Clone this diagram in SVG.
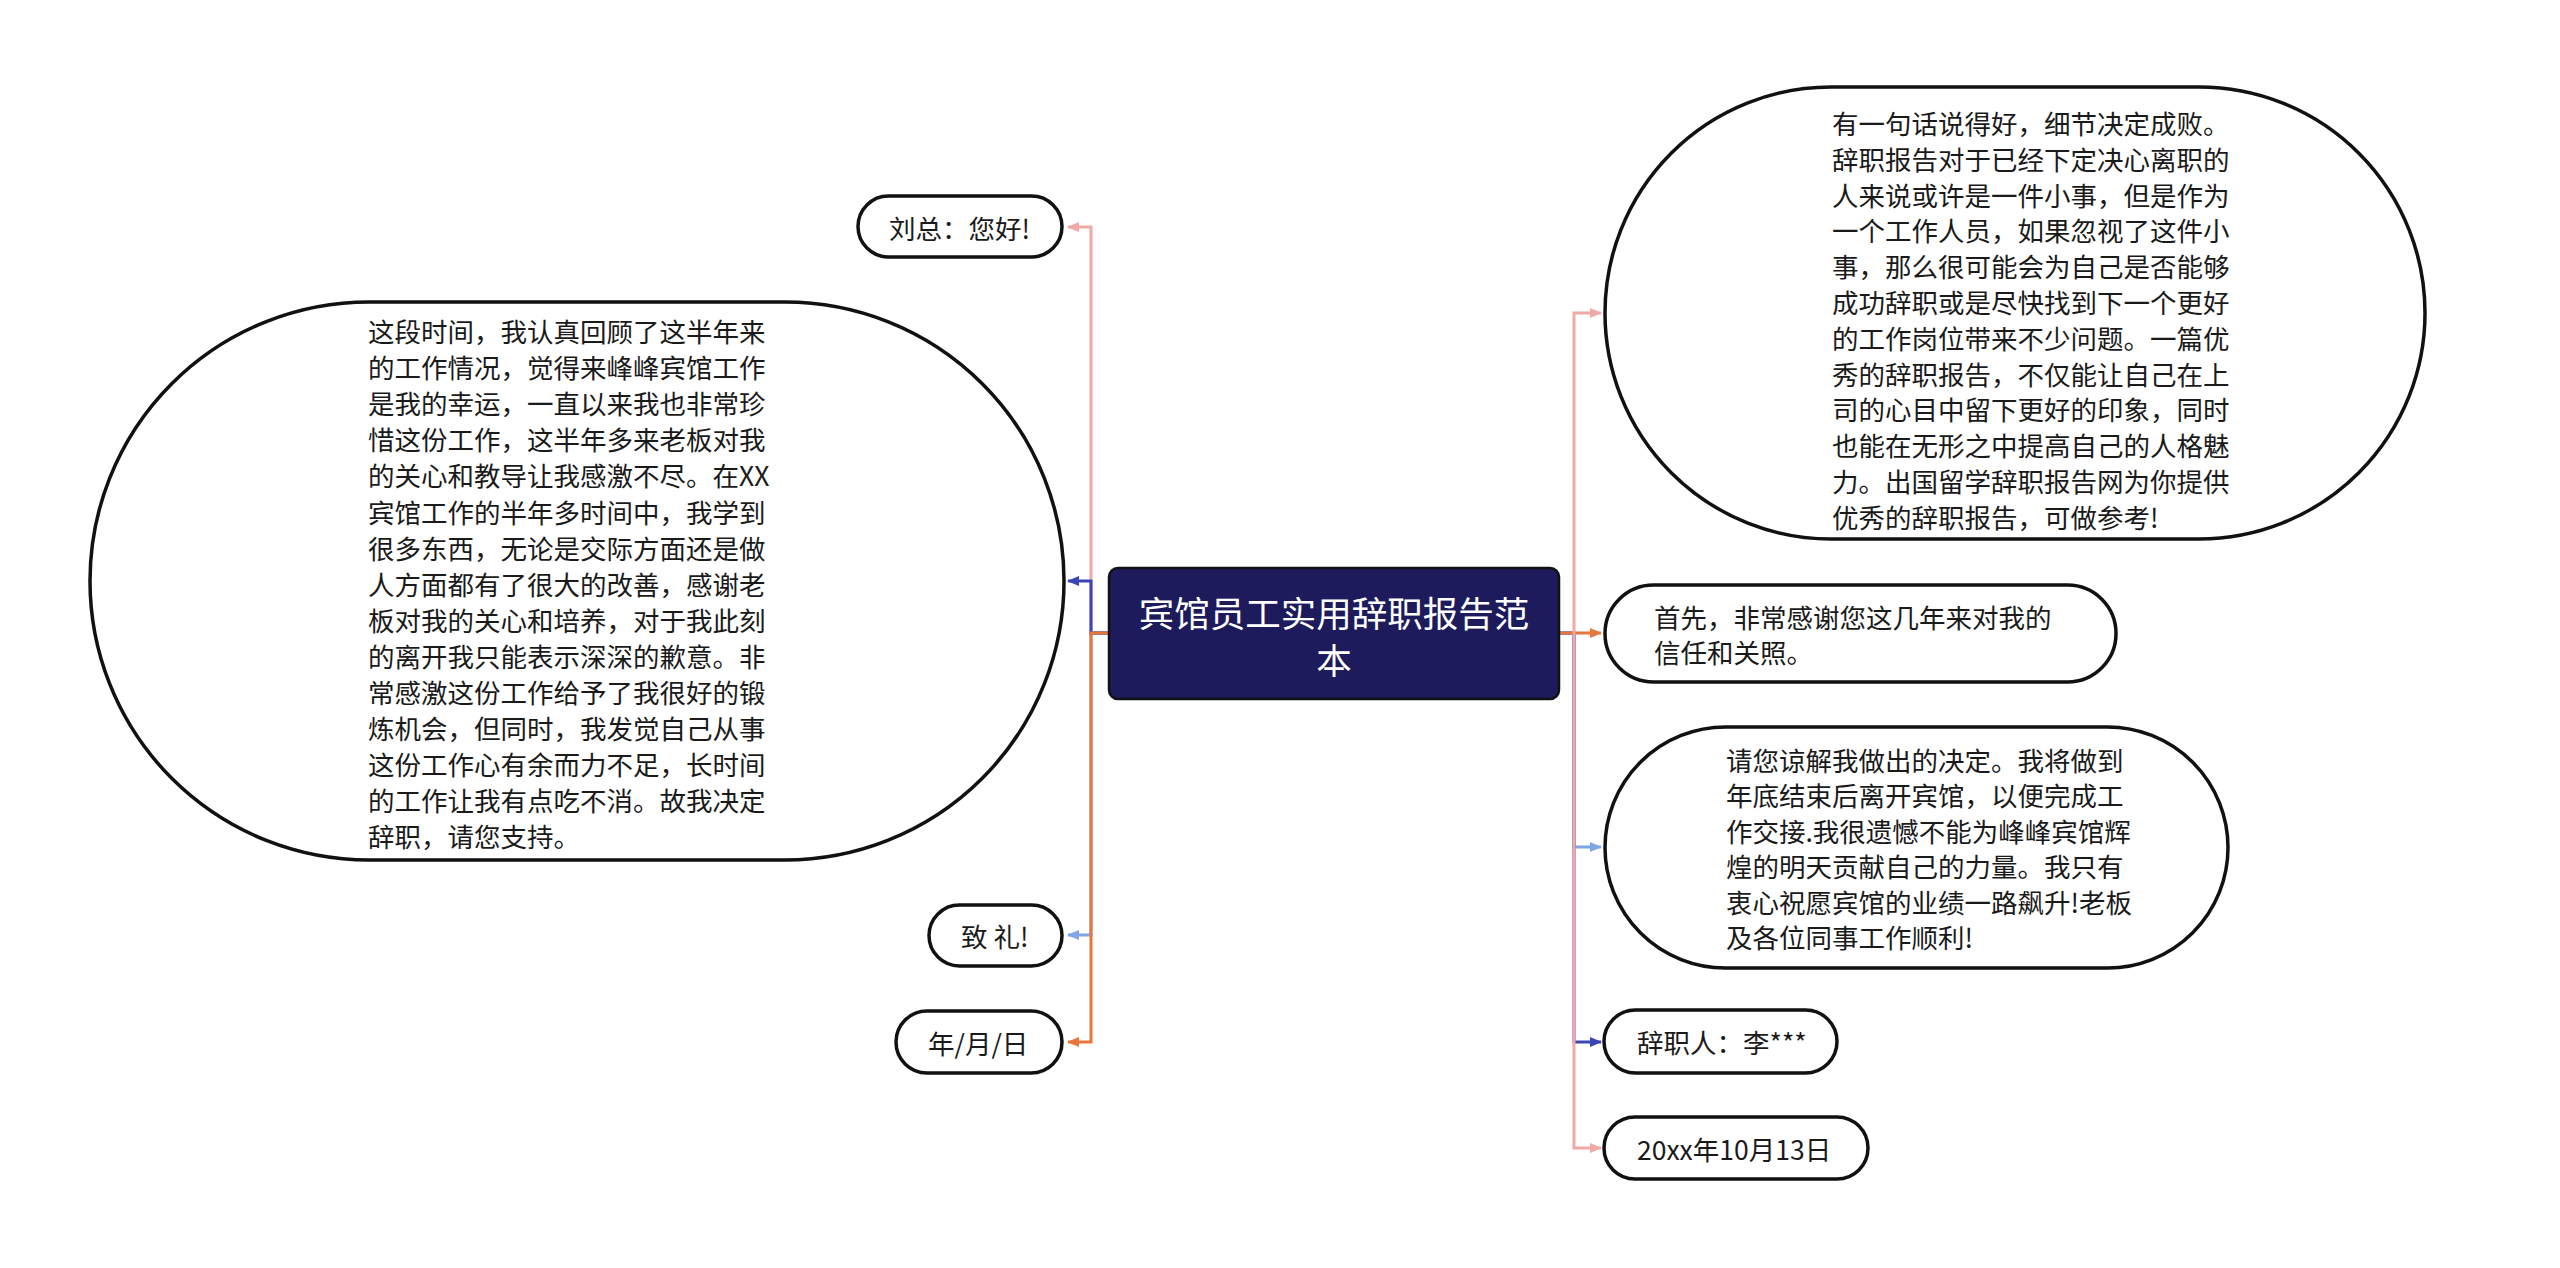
<svg xmlns="http://www.w3.org/2000/svg" width="2560" height="1268" viewBox="0 0 2560 1268">
<style>
.node{fill:#fff;stroke:#111;stroke-width:3.5}
.t{font-family:"Noto Sans CJK SC","Noto Sans",sans-serif;font-size:26.5px;fill:#1a1a1a;dominant-baseline:central}
.title{font-family:"Noto Sans CJK SC","Noto Sans",sans-serif;font-size:35.5px;fill:#fff;dominant-baseline:central;text-anchor:middle}
.c{fill:none;stroke-width:3}
</style>
<defs>
<marker id="aPink" markerWidth="12" markerHeight="10" refX="11" refY="5" orient="auto" markerUnits="userSpaceOnUse"><path d="M0,0 L12,5 L0,10 z" fill="#f0a9a6"/></marker>
<marker id="aOrange" markerWidth="12" markerHeight="10" refX="11" refY="5" orient="auto" markerUnits="userSpaceOnUse"><path d="M0,0 L12,5 L0,10 z" fill="#e8763a"/></marker>
<marker id="aBlue" markerWidth="12" markerHeight="10" refX="11" refY="5" orient="auto" markerUnits="userSpaceOnUse"><path d="M0,0 L12,5 L0,10 z" fill="#3b46b5"/></marker>
<marker id="aLBlue" markerWidth="12" markerHeight="10" refX="11" refY="5" orient="auto" markerUnits="userSpaceOnUse"><path d="M0,0 L12,5 L0,10 z" fill="#7ea6e6"/></marker>
</defs>
<rect width="2560" height="1268" fill="#fff"/>
<g id="connectors">
<path class="c" stroke="#f0a9a6" d="M1109,633 H1091 V227 H1068" marker-end="url(#aPink)"/>
<path class="c" stroke="#7ea6e6" d="M1109,633 H1091 V935 H1068" marker-end="url(#aLBlue)"/>
<path class="c" stroke="#3b46b5" d="M1109,633 H1091 V581 H1068" marker-end="url(#aBlue)"/>
<path class="c" stroke="#e8763a" d="M1109,633 H1091 V1042 H1068" marker-end="url(#aOrange)"/>
<path class="c" stroke="#7ea6e6" d="M1559,633 H1574 V847 H1601" marker-end="url(#aLBlue)"/>
<path class="c" stroke="#3b46b5" d="M1559,633 H1574 V1042 H1601" marker-end="url(#aBlue)"/>
<path class="c" stroke="#e8763a" d="M1559,633 H1601" marker-end="url(#aOrange)"/>
<path class="c" stroke="#f0a9a6" d="M1574,633 V313 H1601" marker-end="url(#aPink)"/>
<path class="c" stroke="#f0a9a6" d="M1574,633 V1148 H1601" marker-end="url(#aPink)"/>
</g>
<g id="center">
<rect x="1109" y="568" width="450" height="131" rx="9" fill="#1d1b5c" stroke="#111" stroke-width="2.5"/>
<text class="title" x="1334" y="611">宾馆员工实用辞职报告范</text>
<text class="title" x="1334" y="658">本</text>
</g>
<g id="n-liuzong">
<rect class="node" x="858" y="196" width="204" height="61" rx="30.5"/>
<text class="t" x="889" y="227">刘总：您好!</text>
</g>
<g id="n-left-big">
<rect class="node" x="90" y="302" width="974" height="558" rx="279"/>
<text class="t" x="368">
<tspan x="368" y="330">这段时间，我认真回顾了这半年来</tspan>
<tspan x="368" y="366.1">的工作情况，觉得来峰峰宾馆工作</tspan>
<tspan x="368" y="402.2">是我的幸运，一直以来我也非常珍</tspan>
<tspan x="368" y="438.3">惜这份工作，这半年多来老板对我</tspan>
<tspan x="368" y="474.4">的关心和教导让我感激不尽。在XX</tspan>
<tspan x="368" y="510.5">宾馆工作的半年多时间中，我学到</tspan>
<tspan x="368" y="546.6">很多东西，无论是交际方面还是做</tspan>
<tspan x="368" y="582.7">人方面都有了很大的改善，感谢老</tspan>
<tspan x="368" y="618.8">板对我的关心和培养，对于我此刻</tspan>
<tspan x="368" y="654.9">的离开我只能表示深深的歉意。非</tspan>
<tspan x="368" y="691">常感激这份工作给予了我很好的锻</tspan>
<tspan x="368" y="727.1">炼机会，但同时，我发觉自己从事</tspan>
<tspan x="368" y="763.2">这份工作心有余而力不足，长时间</tspan>
<tspan x="368" y="799.3">的工作让我有点吃不消。故我决定</tspan>
<tspan x="368" y="835.4">辞职，请您支持。</tspan>
</text>
</g>
<g id="n-zhili">
<rect class="node" x="929" y="905" width="133" height="61" rx="30.5"/>
<text class="t" x="961" y="935">致 礼!</text>
</g>
<g id="n-date-left">
<rect class="node" x="896" y="1011" width="166" height="62" rx="31"/>
<text class="t" x="928" y="1042">年/月/日</text>
</g>
<g id="n-right-big">
<rect class="node" x="1605" y="87" width="820" height="452" rx="226"/>
<text class="t">
<tspan x="1832" y="122">有一句话说得好，细节决定成败。</tspan>
<tspan x="1832" y="157.8">辞职报告对于已经下定决心离职的</tspan>
<tspan x="1832" y="193.6">人来说或许是一件小事，但是作为</tspan>
<tspan x="1832" y="229.4">一个工作人员，如果忽视了这件小</tspan>
<tspan x="1832" y="265.2">事，那么很可能会为自己是否能够</tspan>
<tspan x="1832" y="301">成功辞职或是尽快找到下一个更好</tspan>
<tspan x="1832" y="336.8">的工作岗位带来不少问题。一篇优</tspan>
<tspan x="1832" y="372.6">秀的辞职报告，不仅能让自己在上</tspan>
<tspan x="1832" y="408.4">司的心目中留下更好的印象，同时</tspan>
<tspan x="1832" y="444.2">也能在无形之中提高自己的人格魅</tspan>
<tspan x="1832" y="480">力。出国留学辞职报告网为你提供</tspan>
<tspan x="1832" y="515.8">优秀的辞职报告，可做参考!</tspan>
</text>
</g>
<g id="n-shouxian">
<rect class="node" x="1605" y="585" width="511" height="97" rx="48.5"/>
<text class="t">
<tspan x="1654" y="616">首先，非常感谢您这几年来对我的</tspan>
<tspan x="1654" y="651">信任和关照。</tspan>
</text>
</g>
<g id="n-qingnin">
<rect class="node" x="1605" y="727" width="623" height="241" rx="120.5"/>
<text class="t">
<tspan x="1726" y="759">请您谅解我做出的决定。我将做到</tspan>
<tspan x="1726" y="794.4">年底结束后离开宾馆，以便完成工</tspan>
<tspan x="1726" y="829.8">作交接.我很遗憾不能为峰峰宾馆辉</tspan>
<tspan x="1726" y="865.2">煌的明天贡献自己的力量。我只有</tspan>
<tspan x="1726" y="900.6">衷心祝愿宾馆的业绩一路飙升!老板</tspan>
<tspan x="1726" y="936">及各位同事工作顺利!</tspan>
</text>
</g>
<g id="n-cizhiren">
<rect class="node" x="1604" y="1010" width="233" height="63" rx="31.5"/>
<text class="t" x="1637" y="1041">辞职人：李***</text>
</g>
<g id="n-date-right">
<rect class="node" x="1604" y="1117" width="264" height="62" rx="31"/>
<text class="t" x="1637" y="1148">20xx年10月13日</text>
</g>
</svg>
